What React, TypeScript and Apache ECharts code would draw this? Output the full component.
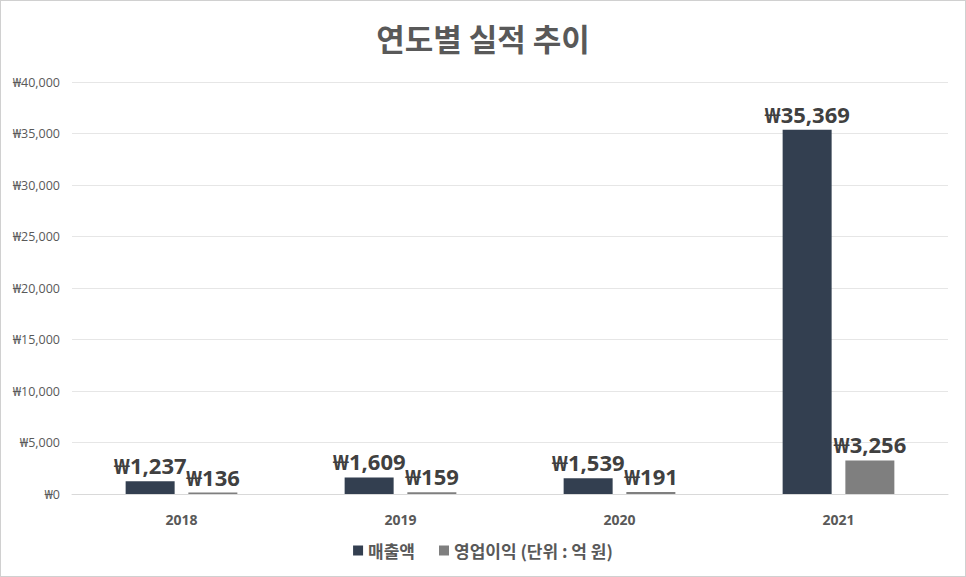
import React, { useEffect, useRef } from "react";
import * as echarts from "echarts";

const categories = ["2018", "2019", "2020", "2021"];
const revenue = [1237, 1609, 1539, 35369];
const operatingProfit = [136, 159, 191, 3256];
const seriesNames = ["매출액", "영업이익 (단위 : 억 원)"];
const titleText = "연도별 실적 추이";

const FONT = "'Noto Sans CJK KR', 'Noto Sans', sans-serif";
const NUMFONT = "'Open Sans', 'Noto Sans', 'Noto Sans CJK KR', sans-serif";

const fmt = (v: number) => "₩" + v.toLocaleString("en-US");

export default function App() {
  const ref = useRef<HTMLDivElement>(null);
  useEffect(() => {
    document.body.style.margin = "0";
    const chart = echarts.init(ref.current!, null, { renderer: "svg" });
    const labelStyle = {
      show: true,
      position: "top" as const,
      distance: 5,
      formatter: (p: any) => fmt(p.value),
      fontSize: 22,
      fontWeight: "bold" as const,
      color: "#404040",
      fontFamily: NUMFONT,
    };
    chart.setOption({
      animation: false,
      backgroundColor: "#ffffff",
      textStyle: { fontFamily: FONT },
      title: {
        text: titleText,
        left: "center",
        top: 16,
        textStyle: { fontSize: 31, fontWeight: "bold", color: "#595959", fontFamily: FONT },
      },
      legend: {
        bottom: 12,
        left: "center",
        itemWidth: 10,
        itemHeight: 10,
        itemGap: 24,
        icon: "rect",
        textStyle: { fontSize: 17, fontWeight: "bold", color: "#595959", fontFamily: FONT },
        data: seriesNames,
      },
      grid: { left: 71, right: 17, top: 81, bottom: 82, containLabel: false },
      xAxis: {
        type: "category",
        data: categories,
        axisLine: { lineStyle: { color: "#d9d9d9" } },
        axisTick: { show: false },
        axisLabel: { fontSize: 14, fontWeight: "bold", color: "#595959", margin: 18, fontFamily: NUMFONT },
      },
      yAxis: {
        type: "value",
        min: 0,
        max: 40000,
        interval: 5000,
        axisLine: { show: false },
        axisTick: { show: false },
        splitLine: { lineStyle: { color: "#e6e6e6" } },
        axisLabel: {
          fontSize: 12.5,
          color: "#595959",
          margin: 12,
          formatter: (v: number) => fmt(v),
          fontFamily: NUMFONT,
        },
      },
      series: [
        {
          name: seriesNames[0],
          type: "bar",
          data: revenue,
          barWidth: 49,
          barGap: "28%",
          itemStyle: { color: "#333f50" },
          label: labelStyle,
        },
        {
          name: seriesNames[1],
          type: "bar",
          data: operatingProfit,
          barWidth: 49,
          barGap: "28%",
          itemStyle: { color: "#7f7f7f" },
          label: labelStyle,
        },
      ],
    });
    return () => chart.dispose();
  }, []);
  return (
    <div
      ref={ref}
      style={{ width: 966, height: 577, boxSizing: "border-box", border: "1px solid #d0d0d0" }}
    />
  );
}
